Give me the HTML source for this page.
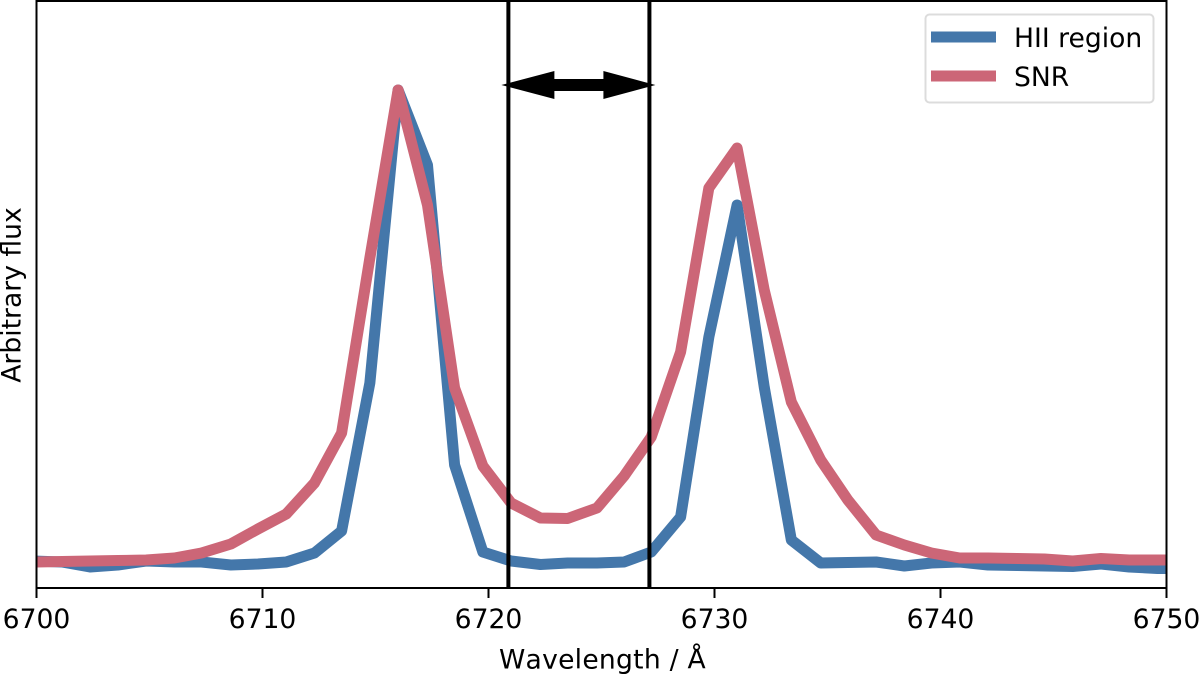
<!DOCTYPE html>
<html>
<head>
<meta charset="utf-8">
<title>Spectrum chart</title>
<style>
html,body{margin:0;padding:0;background:#fff;}
svg{display:block;}
text{font-family:"DejaVu Sans",sans-serif;fill:#000;}
</style>
</head>
<body>
<svg id="chart" xmlns="http://www.w3.org/2000/svg" width="1200" height="675" viewBox="0 0 1200 675">
  <defs><clipPath id="plot-clip"><rect x="36.5" y="1" width="1130" height="587"></rect></clipPath></defs>
  <rect x="0" y="0" width="1200" height="675" fill="#fff"></rect>
  <g id="series" clip-path="url(#plot-clip)"></g>
  <g id="markers"></g>
  <g id="axes"></g>
  <g>
    <rect x="925.5" y="14.5" width="228" height="88" rx="4" fill="#fff" fill-opacity="0.8" stroke="#dcdcdc" stroke-width="2"></rect>
    <line x1="931" x2="996" y1="37" y2="37" stroke="#4477aa" stroke-width="11"></line>
    <text x="1014" y="47" font-size="26.6">HII region</text>
    <line x1="931" x2="996" y1="76" y2="76" stroke="#cc6677" stroke-width="11"></line>
    <text x="1014" y="86" font-size="26.6">SNR</text>
  </g>
  <text x="602.5" y="668.5" font-size="26.6" text-anchor="middle" style="font-kerning:none;letter-spacing:0.25px">Wavelength / Å</text>
  <text transform="translate(20.5,295) rotate(-90)" font-size="26.6" text-anchor="middle">Arbitrary flux</text>
</svg>
<script>
const wavelengths = [6699.9,6701.13,6702.37,6703.6,6704.85,6706.1,6707.3,6708.6,6709.8,6711.05,6712.3,6713.5,6714.75,6716,6717.3,6718.5,6719.75,6721,6722.3,6723.5,6724.8,6726,6727.2,6728.5,6729.75,6731,6732.2,6733.4,6734.7,6735.9,6737.15,6738.4,6739.6,6740.85,6742.1,6743.4,6744.6,6745.85,6747.1,6748.35,6749.6,6750.8];
const hiiFlux = [5.4,5.2,4.2,4.6,5.4,5.2,5.2,4.6,4.8,5.2,7.0,11.4,41.0,99.6,84.6,24.6,7.2,5.4,4.7,5.0,5.0,5.2,7.2,14.2,50.2,76.6,40.2,9.6,5.0,5.1,5.2,4.4,5.0,5.2,4.6,4.5,4.4,4.3,4.8,4.2,3.9,3.9];
const snrFlux = [5.2,5.3,5.4,5.5,5.6,6.0,7.0,8.8,11.8,14.8,21.0,31.0,66.0,99.6,76.6,40.0,24.4,17.0,14.0,13.9,16.0,22.4,30.2,47.2,80.0,88.0,59.6,37.2,25.6,17.6,10.6,8.6,7.0,6.0,6.0,5.9,5.8,5.4,5.9,5.6,5.6,5.6];
const xTicks = [6700,6710,6720,6730,6740,6750];
const windowEdges = [6720.88,6727.12];

const NS = 'http://www.w3.org/2000/svg';
const xMin = 6700, xMax = 6750, plotLeft = 36.5, plotRight = 1166.5, plotBottom = 588, plotTop = 1;
function xScale(v){ return plotLeft + (v - xMin) / (xMax - xMin) * (plotRight - plotLeft); }
function yScale(v){ return plotBottom - v * 5; }
function make(tag, attrs, parent){
  const el = document.createElementNS(NS, tag);
  for (const k in attrs) el.setAttribute(k, attrs[k]);
  parent.appendChild(el);
  return el;
}
function linePoints(xs, ys){
  return xs.map(function(x, i){ return xScale(x).toFixed(2) + ',' + yScale(ys[i]).toFixed(2); }).join(' ');
}

const seriesGroup = document.getElementById('series');
const hiiLine = make('polyline', {points: linePoints(wavelengths, hiiFlux), fill: 'none', stroke: '#4477aa', 'stroke-width': 11, 'stroke-linejoin': 'round'}, seriesGroup);


const snrLine = make('polyline', {points: linePoints(wavelengths, snrFlux), fill: 'none', stroke: '#cc6677', 'stroke-width': 11, 'stroke-linejoin': 'round'}, seriesGroup);



const markerGroup = document.getElementById('markers');
windowEdges.forEach(function(v){
  const edge = make('line', {x1: xScale(v), x2: xScale(v), y1: plotTop, y2: plotBottom, stroke: '#000', 'stroke-width': 4}, markerGroup);
  
  
});
const ax0 = xScale(windowEdges[0]) - 7, ax1 = xScale(windowEdges[1]) + 6, ay = 85;
const arrow = make('polygon', {
  points: [[ax0,ay],[ax0+53,ay-14],[ax0+53,ay-6],[ax1-52,ay-6],[ax1-52,ay-14],[ax1,ay],[ax1-52,ay+14],[ax1-52,ay+6],[ax0+53,ay+6],[ax0+53,ay+14]].join(' '),
  fill: '#000'
}, markerGroup);



const axesGroup = document.getElementById('axes');
const spine = make('rect', {x: plotLeft, y: plotTop, width: plotRight - plotLeft, height: plotBottom - plotTop, fill: 'none', stroke: '#000', 'stroke-width': 2}, axesGroup);


xTicks.forEach(function(t){
  const tick = make('line', {x1: xScale(t), x2: xScale(t), y1: plotBottom, y2: plotBottom + 10, stroke: '#000', 'stroke-width': 2}, axesGroup);
  
  
  const label = make('text', {x: xScale(t), y: 628, 'font-size': 26.6, 'text-anchor': 'middle'}, axesGroup);
  label.textContent = String(t);
  
  
});
</script>
</body>
</html>
